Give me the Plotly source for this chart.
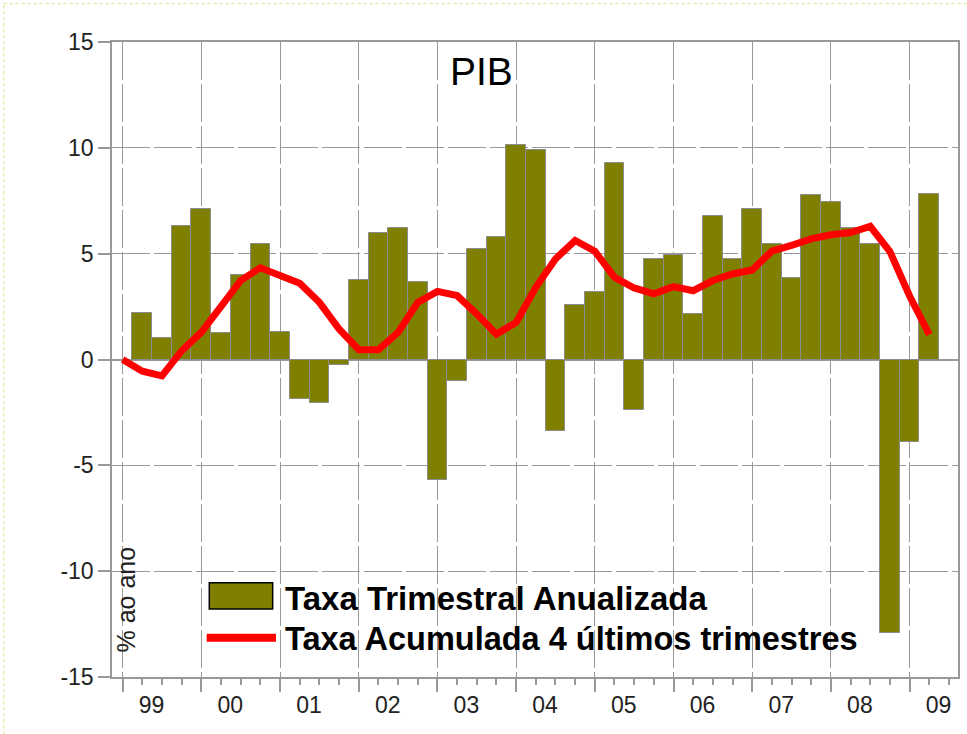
import plotly.graph_objects as go

# ---- data (quarterly, 1999Q1 .. 2009Q2) ----
year_labels = ["99", "00", "01", "02", "03", "04", "05", "06", "07", "08", "09"]
quarters = [f"{y}Q{q}" for y in range(1999, 2010) for q in range(1, 5)][:42]

taxa_trimestral = [None, 2.2, 1.0, 6.3, 7.1, 1.25, 4.0, 5.47, 1.3, -1.88, -2.07, -0.26,
                   3.76, 5.97, 6.2, 3.68, -5.71, -1.01, 5.23, 5.81, 10.12, 9.9, -3.38, 2.56,
                   3.17, 9.3, -2.4, 4.74, 4.96, 2.13, 6.77, 4.74, 7.09, 5.48, 3.84, 7.75,
                   7.42, 6.19, 5.45, -12.9, -3.91, 7.83]
taxa_acumulada = [0.0, -0.55, -0.77, 0.41, 1.28, 2.46, 3.73, 4.33, 4.0, 3.6, 2.7, 1.44,
                  0.46, 0.46, 1.28, 2.7, 3.22, 3.02, 2.15, 1.2, 1.75, 3.41, 4.75, 5.62,
                  5.12, 3.88, 3.38, 3.1, 3.44, 3.25, 3.73, 4.04, 4.23, 5.12, 5.39, 5.7,
                  5.89, 6.0, 6.29, 5.1, 3.0, 1.18]

y_ticks = [-15, -10, -5, 0, 5, 10, 15]
y_ticktext = ["-15", "-10", "-5", "0", "5", "10", "15"]

x = list(range(len(quarters)))
year_pos = [4 * i for i in range(len(year_labels))]

GRID = "#999999"
FONT = "Arial, Liberation Sans, sans-serif"

fig = go.Figure()
fig.add_trace(go.Bar(
    x=x, y=taxa_trimestral, name="Taxa Trimestral Anualizada",
    marker=dict(color="#808000", line=dict(color="#8c8c8c", width=1)),
    width=1.0, hovertext=quarters, showlegend=False,
))
fig.add_trace(go.Scatter(
    x=x, y=taxa_acumulada, name="Taxa Acumulada 4 últimos trimestres",
    mode="lines", line=dict(color="#ff0000", width=7), hovertext=quarters,
    showlegend=False,
))

fig.update_layout(
    width=967, height=734,
    margin=dict(l=112, r=9, t=42, b=57, autoexpand=False),
    paper_bgcolor="white", plot_bgcolor="white",
    bargap=0, showlegend=False,
    font=dict(family=FONT, color="#222222"),
)

fig.update_xaxes(
    range=[-0.54, 42.46], automargin=False,
    tickmode="array", tickvals=year_pos, ticktext=year_labels,
    ticklabelshift=29, ticklabelstandoff=-6,
    ticks="outside", ticklen=13, tickwidth=1.5, tickcolor=GRID,
    tickfont=dict(size=23, family=FONT, color="#222222"),
    showgrid=True, gridcolor=GRID, gridwidth=1.3, griddash="38px,4px",
    minor=dict(tickmode="array", tickvals=x + [42], ticks="outside", ticklen=6,
               tickwidth=1.5, tickcolor=GRID, showgrid=False),
    showline=True, linecolor=GRID, linewidth=1.5, mirror=True,
    zeroline=False,
)
fig.update_yaxes(
    range=[-15, 15], automargin=False,
    tickmode="array", tickvals=y_ticks, ticktext=y_ticktext,
    ticks="outside", ticklen=12, tickwidth=1.5, tickcolor=GRID,
    tickfont=dict(size=23, family=FONT, color="#222222"),
    showgrid=True, gridcolor=GRID, gridwidth=1.3, griddash="38px,4px",
    zeroline=True, zerolinecolor=GRID, zerolinewidth=1.5,
    showline=True, linecolor=GRID, linewidth=1.5, mirror=True,
)

# title inside plot
fig.add_annotation(text="PIB", xref="paper", yref="paper", x=0.437, y=0.9528,
                   showarrow=False, font=dict(size=39, family=FONT, color="#000000"),
                   xanchor="center", yanchor="middle")
# y-axis title inside plot
fig.add_annotation(text="% ao ano", xref="paper", yref="paper", x=0.016, y=0.1213,
                   showarrow=False, textangle=-90,
                   font=dict(size=25, family=FONT, color="#222222"),
                   xanchor="center", yanchor="middle")

# custom legend
fig.add_shape(type="rect", xref="paper", yref="paper", x0=0.115, x1=0.1899,
              y0=0.1071, y1=0.1485, fillcolor="#808000",
              line=dict(color="#000000", width=1.5))
fig.add_shape(type="line", xref="paper", yref="paper", x0=0.1119, x1=0.1938,
              y0=0.0619, y1=0.0619, line=dict(color="#ff0000", width=8))
fig.add_annotation(text="<b>Taxa Trimestral Anualizada</b>", xref="paper", yref="paper",
                   x=0.2024, y=0.1244, xanchor="left", yanchor="middle", showarrow=False,
                   font=dict(size=33, family=FONT, color="#000000"))
fig.add_annotation(text="<b>Taxa Acumulada 4 últimos trimestres</b>", xref="paper",
                   yref="paper", x=0.2024, y=0.0598, xanchor="left", yanchor="middle",
                   showarrow=False, font=dict(size=32.5, family=FONT, color="#000000"))

# dotted frame edges (top and left)
fig.add_shape(type="line", xref="paper", yref="paper", x0=-0.128, x1=1.01,
              y0=1.0606, y1=1.0606, line=dict(color="#e8e8a8", width=1.5, dash="dot"))
fig.add_shape(type="line", xref="paper", yref="paper", x0=-0.128, x1=-0.128,
              y0=-0.09, y1=1.0606, line=dict(color="#e8e8a8", width=1.5, dash="dot"))

fig.write_html("out.html", config={"displayModeBar": False},
               post_script="document.body.style.margin='0';")
